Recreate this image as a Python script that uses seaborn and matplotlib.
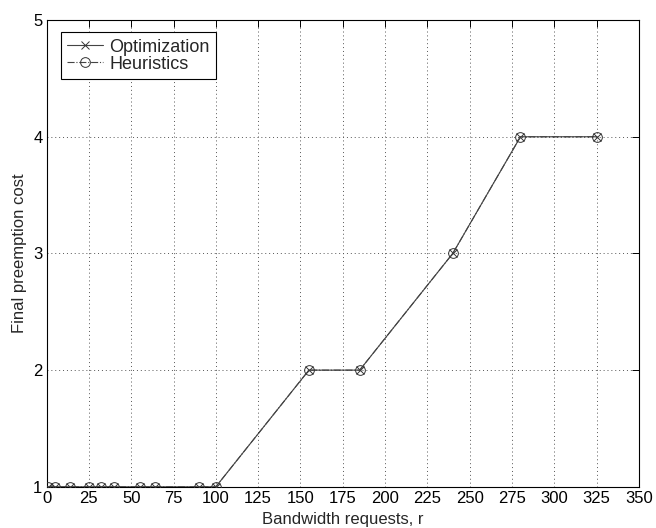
import seaborn as sns
import matplotlib.pyplot as plt
import pandas as pd

# data
requests = [1, 5, 14, 25, 32, 40, 55, 64, 90, 100, 155, 185, 240, 280, 325]
optimization = [1, 1, 1, 1, 1, 1, 1, 1, 1, 1, 2, 2, 3, 4, 4]
heuristics = [1, 1, 1, 1, 1, 1, 1, 1, 1, 1, 2, 2, 3, 4, 4]
x_ticks = list(range(0, 351, 25))
y_ticks = [1, 2, 3, 4, 5]

if __name__ == '__main__':
    df = pd.DataFrame({"r": requests, "Optimization": optimization, "Heuristics": heuristics})

    sns.set_style("white")
    plt.rcParams['font.family'] = ['Liberation Sans', 'DejaVu Sans']
    fs = 12

    fig = plt.figure(figsize=(6.56, 5.28), dpi=100)
    ax = fig.add_axes([0.071, 0.078, 0.903, 0.884])

    sns.lineplot(data=df, x="r", y="Optimization", ax=ax, color="#444444", lw=0.8,
                 marker="x", markersize=6, markeredgewidth=0.7, markeredgecolor="#333333",
                 label="Optimization", zorder=3)
    sns.lineplot(data=df, x="r", y="Heuristics", ax=ax, color="#444444", lw=0.8,
                 linestyle="-.", marker="o", markersize=7, markerfacecolor="none",
                 markeredgewidth=0.7, markeredgecolor="#333333",
                 label="Heuristics", zorder=3)

    ax.set_xlim(0, 350)
    ax.set_ylim(1, 5)
    ax.set_xticks(x_ticks)
    ax.set_yticks(y_ticks)
    ax.grid(True, linestyle=(0, (1, 3)), color="#555555", lw=0.7)
    ax.tick_params(direction="in", top=True, right=True, length=5, width=0.7,
                   labelsize=fs, pad=3, colors="black")
    for s in ax.spines.values():
        s.set_color("black")
        s.set_linewidth(0.8)
    ax.set_xlabel("Bandwidth requests, r", fontsize=fs, labelpad=4)
    ax.set_ylabel("Final preemption cost", fontsize=fs, labelpad=4)

    leg = ax.legend(loc="upper left", bbox_to_anchor=(0.024, 0.974), fancybox=False,
                    edgecolor="black", framealpha=1, fontsize=13, handlelength=2.0,
                    borderpad=0.35, labelspacing=0.0, handletextpad=0.35,
                    borderaxespad=0)
    leg.get_frame().set_linewidth(0.8)

    plt.savefig("out.png", dpi=100)
